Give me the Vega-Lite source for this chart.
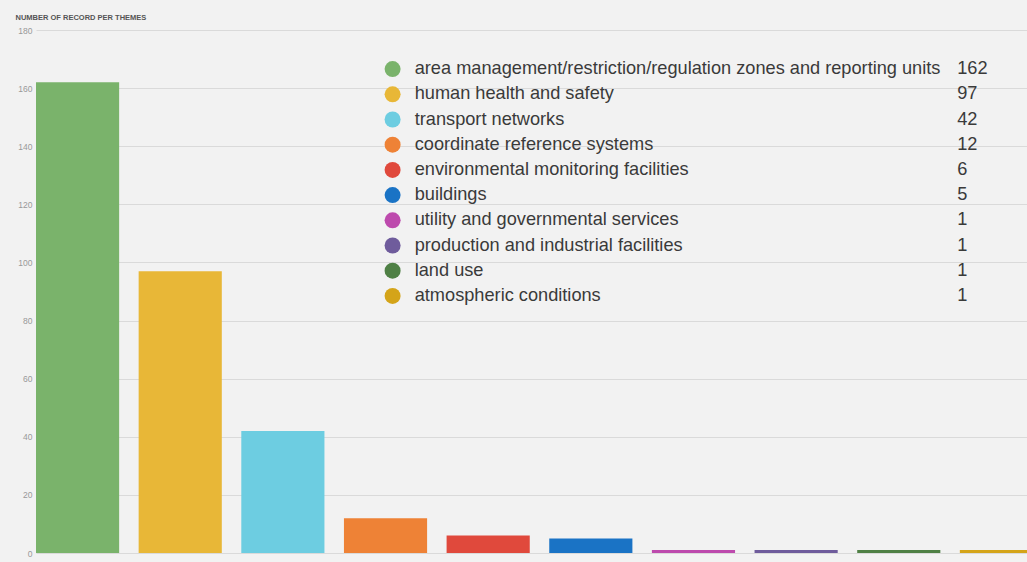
{
  "$schema": "https://vega.github.io/schema/vega-lite/v6.json",
  "width": 992,
  "height": 523,
  "autosize": {"type": "none"},
  "padding": {"left": 35, "top": 30, "right": 0, "bottom": 9},
  "background": "#f2f2f2",
  "datasets": {
    "themes": [
      {"rank": 1, "theme": "area management/restriction/regulation zones and reporting units", "count": 162},
      {"rank": 2, "theme": "human health and safety", "count": 97},
      {"rank": 3, "theme": "transport networks", "count": 42},
      {"rank": 4, "theme": "coordinate reference systems", "count": 12},
      {"rank": 5, "theme": "environmental monitoring facilities", "count": 6},
      {"rank": 6, "theme": "buildings", "count": 5},
      {"rank": 7, "theme": "utility and governmental services", "count": 1},
      {"rank": 8, "theme": "production and industrial facilities", "count": 1},
      {"rank": 9, "theme": "land use", "count": 1},
      {"rank": 10, "theme": "atmospheric conditions", "count": 1}
    ]
  },
  "data": {"name": "themes"},
  "mark": {"type": "bar", "clip": true},
  "encoding": {
    "x": {
      "field": "theme",
      "type": "nominal",
      "sort": null,
      "axis": null,
      "scale": {"range": [1, 1008], "paddingInner": 0.19, "paddingOuter": 0}
    },
    "y": {
      "field": "count",
      "type": "quantitative",
      "scale": {"domain": [0, 180], "nice": false},
      "axis": {
        "values": [0, 20, 40, 60, 80, 100, 120, 140, 160, 180],
        "title": "NUMBER OF RECORD PER THEMES",
        "titleAngle": 0,
        "titleAlign": "left",
        "titleBaseline": "alphabetic",
        "titleX": -20,
        "titleY": -11,
        "titleFont": "Liberation Sans",
        "titleFontSize": 7.5,
        "titleFontWeight": "bold",
        "titleColor": "#555555",
        "domain": false,
        "ticks": false,
        "labelPadding": 3,
        "labelFont": "Liberation Sans",
        "labelFontSize": 8.5,
        "labelColor": "#999999",
        "gridColor": "#dadada",
        "gridWidth": 1
      }
    },
    "color": {
      "field": "theme",
      "type": "nominal",
      "sort": null,
      "scale": {
        "range": ["#7ab36b", "#e8b737", "#6dcde1", "#ee8236", "#e0493c", "#1a73c5", "#bd4aad", "#6f5c9c", "#4f8045", "#d4a419"]
      },
      "legend": {
        "orient": "none",
        "legendX": 348.5,
        "legendY": 30,
        "title": null,
        "symbolType": "circle",
        "symbolSize": 256,
        "symbolStrokeWidth": 0,
        "labelOffset": 13,
        "labelFont": "Liberation Sans",
        "labelFontSize": 18.2,
        "labelColor": "#3a3a3a",
        "labelLimit": 800,
        "rowPadding": 6.2,
        "padding": 0
      }
    },
    "opacity": {
      "field": "rank",
      "type": "ordinal",
      "scale": {"type": "ordinal", "range": [1]},
      "legend": {
        "orient": "none",
        "legendX": 904,
        "legendY": 30,
        "title": null,
        "symbolSize": 1,
        "symbolFillColor": "transparent",
        "symbolStrokeColor": "transparent",
        "symbolStrokeWidth": 0,
        "labelOffset": 0,
        "labelExpr": "data('themes')[datum.value - 1].count",
        "labelFont": "Liberation Sans",
        "labelFontSize": 18.2,
        "labelColor": "#3a3a3a",
        "rowPadding": 6.2,
        "padding": 0
      }
    }
  },
  "config": {
    "view": {"stroke": null}
  }
}
